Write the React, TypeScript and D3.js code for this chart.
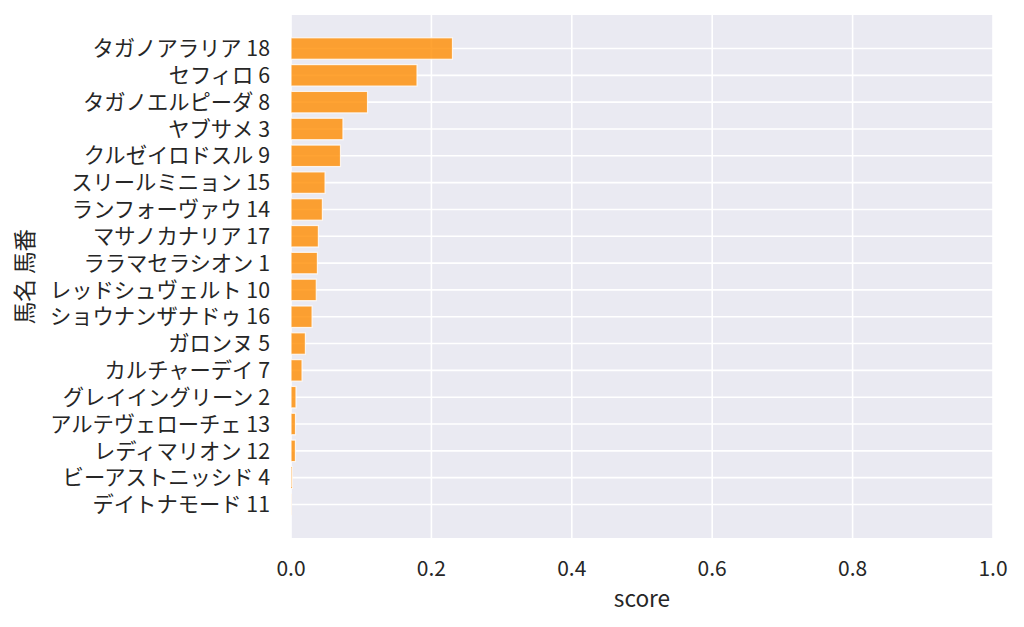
import React, { useEffect, useRef } from "react";
import * as d3 from "d3";

// horse names with numbers, top to bottom
const horses: string[] = [
  "タガノアラリア 18",
  "セフィロ 6",
  "タガノエルピーダ 8",
  "ヤブサメ 3",
  "クルゼイロドスル 9",
  "スリールミニョン 15",
  "ランフォーヴァウ 14",
  "マサノカナリア 17",
  "ララマセラシオン 1",
  "レッドシュヴェルト 10",
  "ショウナンザナドゥ 16",
  "ガロンヌ 5",
  "カルチャーデイ 7",
  "グレイイングリーン 2",
  "アルテヴェローチェ 13",
  "レディマリオン 12",
  "ビーアストニッシド 4",
  "デイトナモード 11",
];

const scores: number[] = [
  0.23, 0.1795, 0.109, 0.074, 0.0705, 0.0485, 0.0447, 0.039, 0.0376, 0.036,
  0.03, 0.0205, 0.0157, 0.0071, 0.0064, 0.0063, 0.0018, 0.0005,
];

const xTicks: number[] = [0, 0.2, 0.4, 0.6, 0.8, 1.0];

const W = 1024;
const H = 627;
const FONT = "'Noto Sans CJK JP', 'Noto Sans', sans-serif";

const App: React.FC = () => {
  const svgRef = useRef<SVGSVGElement>(null);

  useEffect(() => {
    const svg = d3.select(svgRef.current);
    svg.selectAll("*").remove();

    const plot = { left: 291, right: 993, top: 15, bottom: 538 };

    const x = d3.scaleLinear().domain([0, 1]).range([plot.left, plot.right]);
    const y = d3
      .scaleLinear()
      .domain([-1.25, horses.length + 0.25])
      .range([plot.top, plot.bottom]);

    // background
    svg
      .append("rect")
      .attr("x", plot.left)
      .attr("y", plot.top)
      .attr("width", plot.right - plot.left)
      .attr("height", plot.bottom - plot.top)
      .attr("fill", "#EAEAF2");

    // grid
    const grid = svg.append("g").attr("stroke", "#fff").attr("stroke-width", 1.6);
    grid
      .selectAll("line.v")
      .data(xTicks)
      .join("line")
      .attr("class", "v")
      .attr("x1", (d) => x(d))
      .attr("x2", (d) => x(d))
      .attr("y1", plot.top)
      .attr("y2", plot.bottom);
    grid
      .selectAll("line.h")
      .data(horses)
      .join("line")
      .attr("class", "h")
      .attr("x1", plot.left)
      .attr("x2", plot.right)
      .attr("y1", (_, i) => y(i))
      .attr("y2", (_, i) => y(i));

    // bars
    const bh = y(0.8) - y(0);
    svg
      .append("g")
      .selectAll("rect")
      .data(scores)
      .join("rect")
      .attr("x", x(0))
      .attr("y", (_, i) => y(i) - bh / 2)
      .attr("width", (d) => x(d) - x(0))
      .attr("height", bh)
      .attr("fill", "#FF8C00")
      .attr("fill-opacity", 0.8)
      .attr("stroke", "#fff")
      .attr("stroke-opacity", 0.8)
      .attr("stroke-width", 1.2);

    // y tick labels
    svg
      .append("g")
      .selectAll("text")
      .data(horses)
      .join("text")
      .attr("x", plot.left - 21)
      .attr("y", (_, i) => y(i))
      .attr("dy", "0.36em")
      .attr("text-anchor", "end")
      .attr("font-family", FONT)
      .attr("font-size", 21.3)
      .attr("fill", "#262626")
      .text((d) => d);

    // x tick labels
    svg
      .append("g")
      .selectAll("text")
      .data(xTicks)
      .join("text")
      .attr("x", (d) => x(d))
      .attr("y", 576)
      .attr("text-anchor", "middle")
      .attr("font-family", FONT)
      .attr("font-size", 21)
      .attr("fill", "#262626")
      .text((d) => d3.format(".1f")(d));

    // axis labels
    svg
      .append("text")
      .attr("x", (plot.left + plot.right) / 2)
      .attr("y", 607)
      .attr("text-anchor", "middle")
      .attr("font-family", FONT)
      .attr("font-size", 22.6)
      .attr("fill", "#262626")
      .text("score");

    svg
      .append("text")
      .attr("transform", `translate(33, ${(plot.top + plot.bottom) / 2}) rotate(-90)`)
      .attr("text-anchor", "middle")
      .attr("font-family", FONT)
      .attr("font-size", 22.6)
      .attr("fill", "#262626")
      .text("馬名 馬番");

    return () => {
      svg.selectAll("*").remove();
    };
  }, []);

  return (
    <svg
      ref={svgRef}
      width={W}
      height={H}
      style={{ position: "absolute", left: 0, top: 0, background: "#fff" }}
    />
  );
};

export default App;
